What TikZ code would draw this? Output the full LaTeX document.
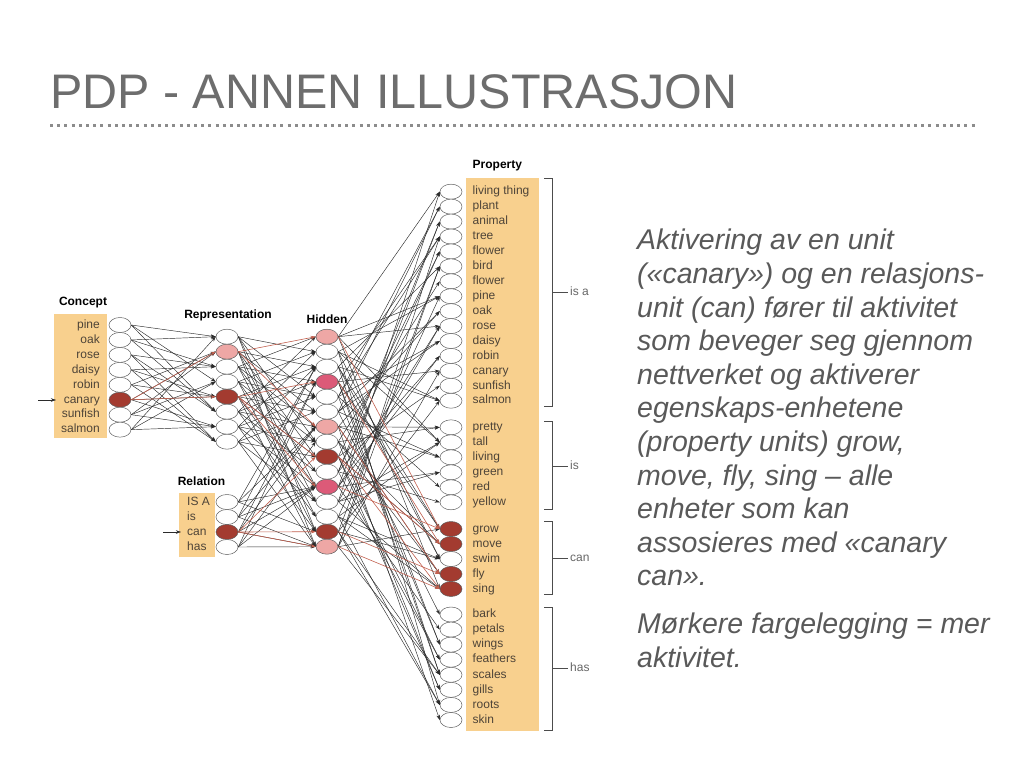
\documentclass[tikz,border=0pt]{standalone}
\usepackage{fontspec}
\setmainfont{Liberation Sans}
\usepackage{tikz}
\usetikzlibrary{arrows.meta,positioning,shapes.geometric}
\definecolor{titlec}{HTML}{6D6D6D}
\definecolor{bodyc}{HTML}{595959}
\definecolor{dotc}{HTML}{8C8C8C}
\definecolor{boxc}{HTML}{F8D08E}
\definecolor{labc}{HTML}{4E4438}
\definecolor{darku}{HTML}{A33B30}
\definecolor{pinku}{HTML}{DC5A78}
\definecolor{lightu}{HTML}{EEA7A5}
\definecolor{redar}{HTML}{C2604F}
\definecolor{wirec}{HTML}{2B2B2B}
\tikzset{
  unit/.style={ellipse,draw=gray!75!black,line width=0.5pt,fill=white,minimum width=22pt,minimum height=15pt,inner sep=0pt},
  ar/.style={-{Stealth[length=5pt,width=3.5pt]},line width=0.45pt,wirec},
  rar/.style={-{Stealth[length=5pt,width=3.5pt]},line width=0.6pt,redar},
  hd/.style={font=\fontsize{12}{14}\selectfont\bfseries,text=black,inner sep=0pt},
  lab/.style={font=\fontsize{12}{14}\selectfont,text=labc,inner sep=0pt,text height=9pt,text depth=2.5pt},
  brk/.style={draw=gray!60!black,line width=0.8pt},
  brl/.style={font=\fontsize{12}{14}\selectfont,text=gray!80!black,anchor=west,inner sep=0pt,text height=9pt,text depth=2.5pt}
}
\begin{document}
\begin{tikzpicture}[x=1pt,y=-1pt]
\useasboundingbox (0,0) rectangle (1024,768);
% title
\node[anchor=base west,inner sep=0pt,font=\fontsize{48.5}{50}\selectfont,text=titlec] (title) at (50,108) {PDP - ANNEN ILLUSTRASJON};
\draw[dotc,line width=3pt,dash pattern=on 3pt off 4.2pt] (50,125) -- (975,125);

% boxes
\fill[boxc] (54,314) rectangle (107,438);
\fill[boxc] (179,493) rectangle (215,557);
\fill[boxc] (466,177.5) rectangle (538.5,731);

% headings
\node[hd] (conhd) at (83,303) {Concept};
\node[hd] (rephd) at (228,315) {Representation};
\node[hd] (hidhd) at (327,319) {Hidden};
\node[hd] (relhd) at (201.5,481.5) {Relation};
\node[hd,anchor=west] (prohd) at (472.5,166) {Property};

% concept units
\foreach \nm/\f [count=\i] in {pine/white,oak/white,rose/white,daisy/white,robin/white,canary/darku,sunfish/white,salmon/white}{
  \node[lab,anchor=east] (cl\i) at (100,{325+14.95*(\i-1)}) {\nm};
  \node[unit,fill=\f] (c\i) at (120,{325+14.95*(\i-1)}) {};
}
% representation units
\foreach \f [count=\i] in {white,lightu,white,white,darku,white,white,white}
  \node[unit,fill=\f] (r\i) at (227,{336.7+15*(\i-1)}) {};
% relation units
\foreach \nm/\f [count=\i] in {IS A/white,is/white,can/darku,has/white}{
  \node[lab,anchor=west] (ll\i) at (187,{502+15*(\i-1)}) {\nm};
  \node[unit,fill=\f] (l\i) at (227,{502+15*(\i-1)}) {};
}
% hidden units
\foreach \f [count=\i] in {lightu,white,white,pinku,white,white,lightu,white,darku,white,pinku,white,white,darku,lightu}
  \node[unit,fill=\f] (h\i) at (327,{336.7+15*(\i-1)}) {};

% property units
\foreach \nm [count=\i] in {living thing,plant,animal,tree,flower,bird,flower,pine,oak,rose,daisy,robin,canary,sunfish,salmon}{
  \node[lab,anchor=west] (pl\i) at (472.5,{191.7+14.93*(\i-1)}) {\nm};
  \node[unit] (p\i) at (451,{191.7+14.93*(\i-1)}) {};
}
\foreach \nm [count=\i from 16] in {pretty,tall,living,green,red,yellow}{
  \node[lab,anchor=west] (pl\i) at (472.5,{427.3+15*(\i-16)}) {\nm};
  \node[unit] (p\i) at (451,{427.3+15*(\i-16)}) {};
}
\foreach \nm/\f [count=\i from 22] in {grow/darku,move/darku,swim/white,fly/darku,sing/darku}{
  \node[lab,anchor=west] (pl\i) at (472.5,{529+15*(\i-22)}) {\nm};
  \node[unit,fill=\f] (p\i) at (451,{529+15*(\i-22)}) {};
}
\foreach \nm [count=\i from 27] in {bark,petals,wings,feathers,scales,gills,roots,skin}{
  \node[lab,anchor=west] (pl\i) at (472.5,{614.5+15.07*(\i-27)}) {\nm};
  \node[unit] (p\i) at (451,{614.5+15.07*(\i-27)}) {};
}

% inputs
\coordinate (cin) at (38,400);
\coordinate (cbox) at (56,400);
\coordinate (lin) at (163,532);
\coordinate (lbox) at (181,532);
\draw[ar] (cin) -- (cbox);
\draw[ar] (lin) -- (lbox);

% weights
\foreach \i in {1,...,8}
  \foreach \k in {0,1,2}{
    \pgfmathtruncatemacro\j{mod(5*\i+3*\k,8)+1}
    \draw[ar] (c\i.east) -- (r\j.west);
  }
\foreach \i in {1,...,8}
  \foreach \k in {0,...,4}{
    \pgfmathtruncatemacro\j{mod(4*\i+3*\k,15)+1}
    \draw[ar] (r\i.east) -- (h\j.west);
  }
\foreach \i in {1,...,4}
  \foreach \k in {0,...,3}{
    \pgfmathtruncatemacro\j{mod(4*\i+4*\k+9,15)+1}
    \draw[ar] (l\i.east) -- (h\j.west);
  }
\foreach \i in {1,...,15}
  \foreach \k in {0,...,4}{
    \pgfmathtruncatemacro\j{mod(7*\i+9*\k,34)+1}
    \draw[ar] (h\i.east) -- (p\j.west);
  }
% active paths
\foreach \a/\b in {c6/r2,c6/r5,r2/h1,r2/h7,r5/h4,r5/h9,r5/h11,l3/h14,l3/h15,l3/h9,
  h1/p22,h4/p23,h7/p25,h9/p26,h11/p22,h14/p25,h15/p26,h9/p23}
  \draw[rar] (\a.east) -- (\b.west);

% brackets
\node[brl] (isa) at (570,292) {is a};
\node[brl] (isb) at (570,466) {is};
\node[brl] (canb) at (570,558) {can};
\node[brl] (hasb) at (570,668.5) {has};
\draw[brk] (544,178) -- (552.5,178) -- (552.5,406) -- (544,406);
\draw[brk] (544,421.7) -- (552.5,421.7) -- (552.5,509) -- (544,509);
\draw[brk] (544,521.7) -- (552.5,521.7) -- (552.5,594.3) -- (544,594.3);
\draw[brk] (544,607.3) -- (552.5,607.3) -- (552.5,730.7) -- (544,730.7);
\draw[brk,shorten >=2pt] (552.5,292) -- (isa.west);
\draw[brk,shorten >=2pt] (552.5,466) -- (isb.west);
\draw[brk,shorten >=2pt] (552.5,558) -- (canb.west);
\draw[brk,shorten >=2pt] (552.5,668.5) -- (hasb.west);

% text
\node[anchor=north west,inner sep=0pt,align=left,text=bodyc,font=\fontsize{28.5}{33.6}\selectfont\itshape] (txt) at (637,229)
{Aktivering av en unit\\
(«canary») og en relasjons-\\
unit (can) fører til aktivitet\\
som beveger seg gjennom\\
nettverket og aktiverer\\
egenskaps-enhetene\\
(property units) grow,\\
move, fly, sing – alle\\
enheter som kan\\
assosieres med «canary\\
can».\\[14pt]
Mørkere fargelegging = mer\\
aktivitet.};
\end{tikzpicture}
\end{document}
